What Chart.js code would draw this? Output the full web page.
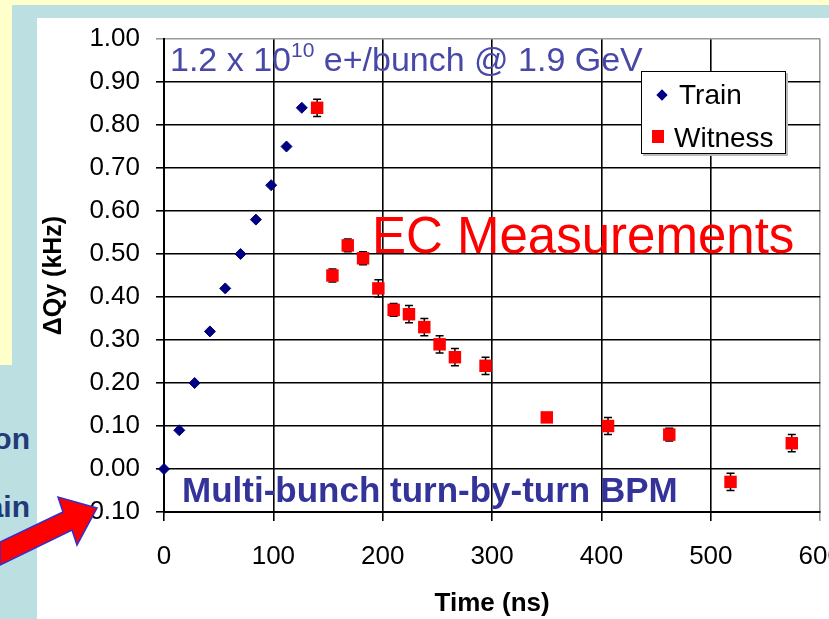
<!DOCTYPE html>
<html>
<head>
<meta charset="utf-8">
<script src="https://cdn.jsdelivr.net/npm/chart.js@4"></script>
<style>
  html, body { margin: 0; padding: 0; }
  body { width: 829px; height: 619px; position: relative; overflow: hidden; background: #bcdfe2; font-family: "Liberation Sans", Arial, sans-serif; }
  .abs { position: absolute; white-space: nowrap; line-height: 1; }
  #topband { left: 0; top: 0; width: 829px; height: 5px; background: #ffffcc; }
  #leftbox { left: 0; top: 0; width: 12px; height: 365px; background: #ffffcc; }
  #white { left: 37px; top: 18px; width: 792px; height: 601px; background: #fff; }
  #side { left: 0; top: 365px; width: 37px; height: 254px; overflow: hidden; }
  #side div { position: absolute; right: 7px; font-weight: bold; font-size: 30px; color: #233a78; line-height: 1; }
  #chart { position: absolute; left: 0; top: 0; }
  .legend { left: 641px; top: 71px; width: 143px; height: 81px; border: 1px solid #000; background: #fff; box-shadow: 2px 2px 0 #bbb; }
  .legend span { position: absolute; font-size: 28px; line-height: 1; color: #000; }
  .dia { position: absolute; width: 8px; height: 8px; background: #000080; transform: rotate(45deg); }
  .sq { position: absolute; width: 12px; height: 13px; background: #ff0000; }
</style>
</head>
<body>
<div class="abs" id="topband"></div>
<div class="abs" id="leftbox"></div>
<div class="abs" id="white"></div>
<div class="abs" id="side">
  <div style="top:59px">on</div>
  <div style="top:127px">ain</div>
</div>
<canvas id="chart" width="829" height="619"></canvas>

<div class="abs" style="left:170px; top:42px; font-size:34px; color:#4848a8;">1.2 x 10<span style="font-size:21px; position:relative; top:-14px;">10</span> e+/bunch @ 1.9 GeV</div>
<div class="abs" style="left:372px; top:210px; font-size:51px; color:#ff0000;">EC Measurements</div>
<div class="abs" style="left:182px; top:472px; font-size:35px; font-weight:bold; color:#333399;">Multi-bunch turn-by-turn BPM</div>

<div class="abs legend">
  <div class="dia" style="left:16px; top:19px;"></div>
  <span style="left:37px; top:9px;">Train</span>
  <div class="sq" style="left:10px; top:58px;"></div>
  <span style="left:32px; top:52px;">Witness</span>
</div>

<svg class="abs" style="left:0; top:480px;" width="110" height="100">
  <polygon points="0,85 72,50 77,65 97,28 58,17 63,32 0,62" fill="#ff0000" stroke="#3030d0" stroke-width="1.5"/>
</svg>

<script>
// Train bunches (blue diamonds)
const trainTime = [0, 14, 28, 42, 56, 70, 84, 98, 112, 126];
const trainShift = [0.00, 0.09, 0.20, 0.32, 0.42, 0.50, 0.58, 0.66, 0.75, 0.84];

// Witness bunches (red squares) with error bars
const witnessTime = [140, 154, 168, 182, 196, 210, 224, 238, 252, 266, 294, 350, 406, 462, 518, 574];
const witnessShift = [0.84, 0.45, 0.52, 0.49, 0.42, 0.37, 0.36, 0.33, 0.29, 0.26, 0.24, 0.12, 0.10, 0.08, -0.03, 0.06];
const witnessErr = [0.02, 0.015, 0.015, 0.015, 0.02, 0.015, 0.02, 0.02, 0.02, 0.02, 0.02, 0.005, 0.02, 0.015, 0.02, 0.02];

const xTicks = [0, 100, 200, 300, 400, 500, 600];
const yTicks = [-0.1, 0, 0.1, 0.2, 0.3, 0.4, 0.5, 0.6, 0.7, 0.8, 0.9, 1.0];

const errorBars = {
    id: 'errorBars',
    beforeDatasetsDraw(chart) {
        const { ctx, scales: { x, y } } = chart;
        ctx.save();
        ctx.strokeStyle = '#000';
        ctx.lineWidth = 1.5;
        witnessTime.forEach((t, i) => {
            const px = x.getPixelForValue(t);
            const top = y.getPixelForValue(witnessShift[i] + witnessErr[i]);
            const bot = y.getPixelForValue(witnessShift[i] - witnessErr[i]);
            ctx.beginPath();
            ctx.moveTo(px, top); ctx.lineTo(px, bot);
            ctx.moveTo(px - 4, top); ctx.lineTo(px + 4, top);
            ctx.moveTo(px - 4, bot); ctx.lineTo(px + 4, bot);
            ctx.stroke();
        });
        ctx.restore();
    }
};

new Chart(document.getElementById('chart'), {
    type: 'scatter',
    data: {
        datasets: [
            {
                label: 'Train',
                data: trainTime.map((t, i) => ({ x: t, y: trainShift[i] })),
                pointStyle: 'rectRot',
                pointRadius: 5.5,
                backgroundColor: '#000080',
                borderColor: '#000080',
                borderWidth: 1,
                clip: false
            },
            {
                label: 'Witness',
                data: witnessTime.map((t, i) => ({ x: t, y: witnessShift[i] })),
                pointStyle: 'rect',
                pointRadius: 8.8,
                backgroundColor: '#ff0000',
                borderColor: '#ff0000',
                borderWidth: 0,
                clip: false
            }
        ]
    },
    options: {
        responsive: false,
        animation: false,
        events: [],
        layout: { padding: { top: 39, right: 8, left: 0, bottom: 0 } },
        plugins: {
            legend: { display: false },
            tooltip: { enabled: false }
        },
        scales: {
            x: {
                type: 'linear',
                min: 0,
                max: 600,
                afterBuildTicks: s => { s.ticks = xTicks.map(v => ({ value: v })); },
                afterFit: s => { s.height = 107; s.paddingLeft = 0; s.paddingRight = 0; },
                ticks: {
                    autoSkip: false,
                    maxRotation: 0,
                    padding: 20,
                    color: '#000',
                    font: { family: 'Liberation Sans', size: 26 }
                },
                grid: {
                    color: c => (c.tick && c.tick.value === 600 ? '#999' : '#000'),
                    lineWidth: 1.6,
                    tickLength: 9
                },
                border: { color: '#000', width: 2 },
                title: {
                    display: true,
                    text: 'Time (ns)',
                    color: '#000',
                    font: { family: 'Liberation Sans', size: 26, weight: 'bold' },
                    padding: { top: 0, bottom: 0 }
                }
            },
            y: {
                type: 'linear',
                min: -0.1,
                max: 1.0,
                afterBuildTicks: s => { s.ticks = yTicks.map(v => ({ value: v })); },
                afterFit: s => { s.width = 164; s.paddingTop = 0; s.paddingBottom = 0; },
                ticks: {
                    autoSkip: false,
                    padding: 16,
                    color: '#000',
                    font: { family: 'Liberation Sans', size: 26 },
                    callback: v => v.toFixed(2)
                },
                grid: {
                    color: c => (c.tick && Math.abs(c.tick.value - 1) < 1e-9 ? '#999' : '#000'),
                    lineWidth: 1.6,
                    tickLength: 8
                },
                border: { color: '#000', width: 2 },
                title: {
                    display: true,
                    text: 'ΔQy (kHz)',
                    color: '#000',
                    font: { family: 'Liberation Sans', size: 25, weight: 'bold' },
                    padding: { top: 39, bottom: 0 }
                }
            }
        }
    },
    plugins: [errorBars]
});
</script>
</body>
</html>
